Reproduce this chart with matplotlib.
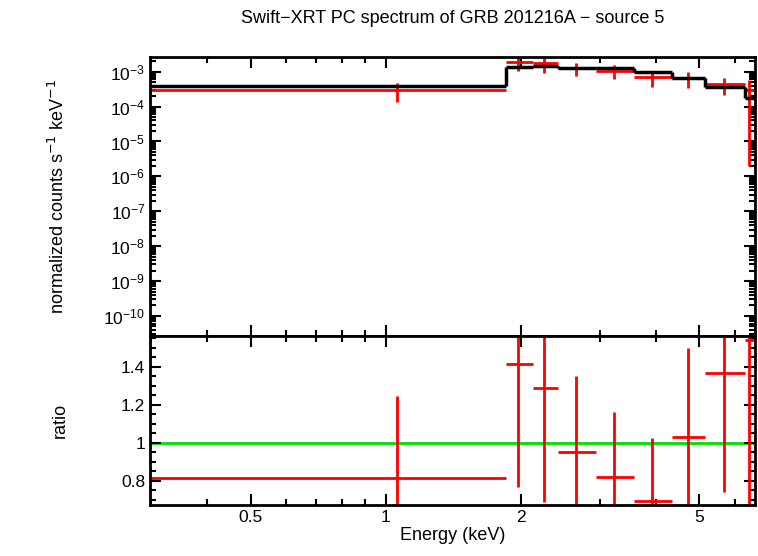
import matplotlib
matplotlib.use('Agg')
import matplotlib.pyplot as plt
from matplotlib.ticker import FixedLocator, NullFormatter, LogLocator
import numpy as np

plt.rcParams['font.family'] = 'Liberation Sans'

# energy bins (keV)
e_lo = [0.30, 1.85, 2.13, 2.42, 2.94, 3.57, 4.34, 5.14, 6.32]
e_hi = [1.85, 2.13, 2.42, 2.94, 3.57, 4.34, 5.14, 6.32, 6.65]
e_mid = [1.06, 1.97, 2.25, 2.65, 3.22, 3.92, 4.71, 5.68, 6.44]

# counts s^-1 keV^-1
data = [3.0e-4, 1.9e-3, 1.78e-3, 1.28e-3, 1.07e-3, 7.0e-4, 6.6e-4, 4.4e-4, 2.9e-4]
model = [3.8e-4, 1.36e-3, 1.48e-3, 1.3e-3, 1.3e-3, 9.8e-4, 6.6e-4, 3.55e-4, 1.8e-4]

ratio = [0.816, 1.416, 1.29, 0.95, 0.82, 0.695, 1.03, 1.37, 1.54]
ratio_err = [0.43, 0.65, 0.60, 0.40, 0.34, 0.33, 0.47, 0.63, 1.6]

e_lo = np.array(e_lo); e_hi = np.array(e_hi); e_mid = np.array(e_mid)
data = np.array(data); model = np.array(model)
ratio = np.array(ratio); ratio_err = np.array(ratio_err)

ymin_top = 10**-10.57
xerr = [e_mid - e_lo, e_hi - e_mid]
d_err = ratio_err * model
# error bars that go below zero run to the bottom of the log axis
d_lo = np.where(d_err >= data, data - ymin_top * 0.5, d_err)

fig = plt.figure(figsize=(7.58, 5.56), dpi=100)
ax1 = fig.add_axes([0.198, 0.396, 0.798, 0.502])
ax2 = fig.add_axes([0.198, 0.092, 0.798, 0.304], sharex=ax1)

for ax in (ax1, ax2):
    ax.set_xscale('log')
    ax.set_xlim(0.298, 6.65)
    for s in ax.spines.values():
        s.set_linewidth(2)
    ax.tick_params(which='both', direction='in', top=True, right=True, width=1.5, labelsize=12.5)
    ax.tick_params(which='major', length=8)
    ax.tick_params(which='minor', length=4)

# model step
ax1.hlines(model, e_lo, e_hi, color='black', lw=2.5, zorder=3)
ax1.vlines(e_hi[:-1], model[:-1], model[1:], color='black', lw=2.5, zorder=3)
ax1.errorbar(e_mid, data, xerr=xerr, yerr=[d_lo, d_err], fmt='none', ecolor='red', elinewidth=2, zorder=2)
ax1.set_yscale('log')
ax1.set_ylim(ymin_top, 10**-2.57)
ax1.yaxis.set_major_locator(LogLocator(base=10, numticks=20))
ax1.yaxis.set_minor_locator(LogLocator(base=10, subs=np.arange(2, 10) * 1.0, numticks=20))
ax1.set_ylabel('normalized counts s$^{-1}$ keV$^{-1}$', fontsize=13)
ax1.yaxis.set_label_coords(-0.135, 0.5)
plt.setp(ax1.get_xticklabels(), visible=False)
ax1.set_title('Swift\u2212XRT PC spectrum of GRB 201216A \u2212 source 5', fontsize=13, pad=24)

ax2.axhline(1, color='#00e000', lw=2, zorder=1)
ax2.errorbar(e_mid, ratio, xerr=xerr, yerr=ratio_err, fmt='none', ecolor='red', elinewidth=2, zorder=2)
ax2.set_ylim(0.674, 1.563)
ax2.set_yticks([0.8, 1, 1.2, 1.4])
ax2.set_yticklabels(['0.8', '1', '1.2', '1.4'])
ax2.yaxis.set_minor_locator(FixedLocator(np.arange(0.7, 1.56, 0.05)))
ax2.xaxis.set_major_locator(FixedLocator([0.5, 1, 2, 5]))
ax2.xaxis.set_minor_locator(FixedLocator([0.3, 0.4, 0.6, 0.7, 0.8, 0.9, 3, 4, 6]))
ax2.xaxis.set_minor_formatter(NullFormatter())
ax2.set_xticklabels(['0.5', '1', '2', '5'])
ax2.set_ylabel('ratio', fontsize=13)
ax2.yaxis.set_label_coords(-0.135, 0.5)
ax2.set_xlabel('Energy (keV)', fontsize=13, labelpad=2)

fig.savefig('out.png', dpi=100)
